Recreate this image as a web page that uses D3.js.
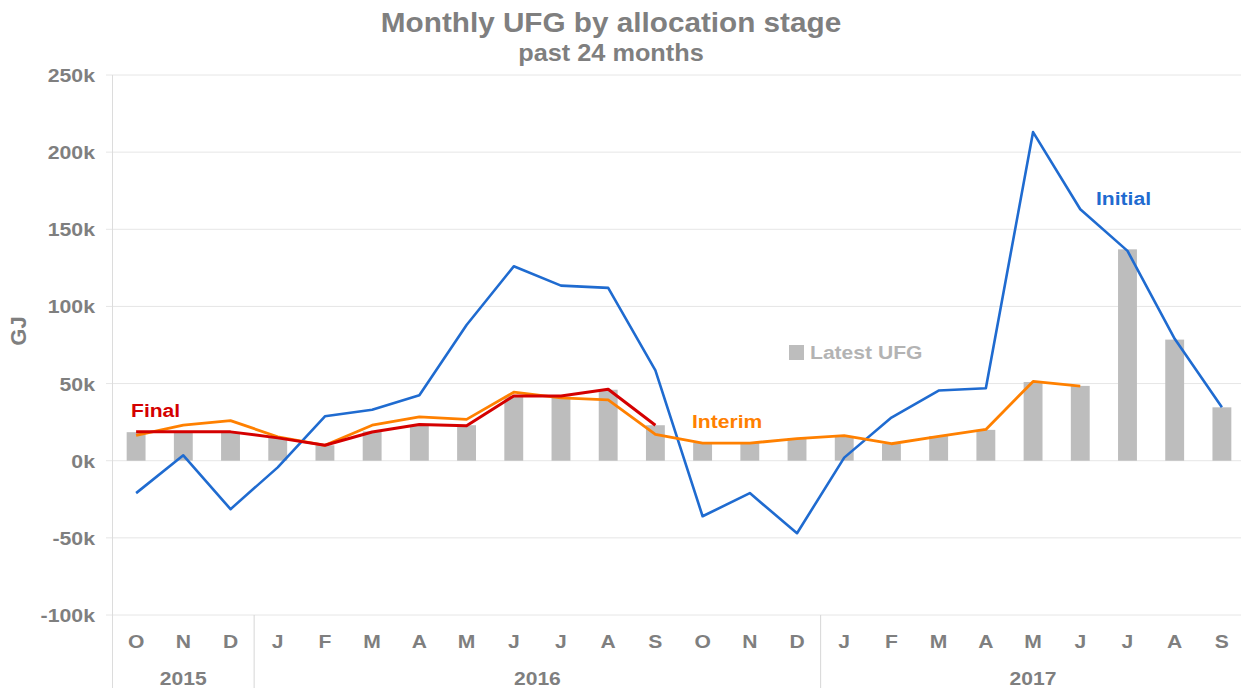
<!DOCTYPE html>
<html>
<head>
<meta charset="utf-8">
<script src="https://cdn.jsdelivr.net/npm/d3@7"></script>
<style>
  body { margin: 0; background: #fff; }
  text { font-family: "Liberation Sans", Arial, sans-serif; font-weight: bold; }
</style>
</head>
<body>
<svg id="chart"></svg>
<script>
// months shown on the axis (past 24 months)
var months = ["O","N","D","J","F","M","A","M","J","J","A","S","O","N","D","J","F","M","A","M","J","J","A","S"];
var years = [
    {label: "2015", from: 0, to: 2},
    {label: "2016", from: 3, to: 14},
    {label: "2017", from: 15, to: 23}
];
// values in thousands of GJ
var latestUfg = [18.5, 18, 18, 15, 10, 19, 23, 23, 42, 41.5, 46, 23, 11.5, 11.5, 14.5, 16, 11, 16, 20, 51, 48.5, 137, 78.5, 34.6];
var initial = [-21, 3.5, -31.4, -4.3, 28.8, 33, 42.4, 88, 126, 113.5, 112, 58.6, -36, -21, -47, 2, 28, 45.5, 47, 213, 163, 136, 79, 34.6];
var interim = [16.4, 23, 26, 15.5, 10, 23, 28.4, 26.8, 44.4, 40.7, 39.4, 17, 11.4, 11.4, 14.3, 16.2, 11, 15.8, 20.3, 51.4, 48.3, null, null, null];
var finalVals = [18.7, 18.7, 18.7, 14.8, 10, 18.6, 23.5, 22.7, 42, 42, 46.3, 23, null, null, null, null, null, null, null, null, null, null, null, null];
var yTicks = [-100, -50, 0, 50, 100, 150, 200, 250];

var W = 1241, H = 688;
var svg = d3.select("#chart").attr("width", W).attr("height", H);

var grey = "#7f7f7f";
var stretch = 1.11; // the reference text is a bit wider than Liberation Sans

var x = d3.scaleBand()
    .domain(d3.range(months.length))
    .range([112.5, 1245.5])
    .paddingInner(0.6)
    .paddingOuter(0.3);
var cx = function (i) { return x(i) + x.bandwidth() / 2; };

var y = d3.scaleLinear()
    .domain([-100, 250])
    .range([615, 75]);

function place(px, py, s) {
    return "translate(" + px + "," + py + ") scale(" + (s || stretch) + ",1)";
}

// gridlines
svg.append("g")
    .selectAll("line")
    .data(yTicks)
    .enter()
    .append("line")
    .attr("x1", 106)
    .attr("x2", W)
    .attr("y1", function (d) { return y(d); })
    .attr("y2", function (d) { return y(d); })
    .style("stroke", "#e6e6e6")
    .style("stroke-width", 1);

// y axis labels
svg.append("g")
    .selectAll("text")
    .data(yTicks)
    .enter()
    .append("text")
    .attr("transform", function (d) { return place(95, y(d) + 7, 1.12); })
    .attr("text-anchor", "end")
    .style("font-size", "19px")
    .style("fill", grey)
    .text(function (d) { return d + "k"; });

svg.append("text")
    .attr("transform", "translate(26," + 331 + ") rotate(-90)")
    .attr("text-anchor", "middle")
    .style("font-size", "22px")
    .style("fill", grey)
    .text("GJ");

// left axis line and year separators
var seps = years.slice(1).map(function (yr) { return x(yr.from) - x.step() * x.paddingInner() / 2; });
svg.append("line")
    .attr("x1", 112.5).attr("x2", 112.5)
    .attr("y1", 75).attr("y2", H)
    .style("stroke", "#dcdcdc");
svg.append("g")
    .selectAll("line")
    .data(seps)
    .enter()
    .append("line")
    .attr("x1", function (d) { return d; })
    .attr("x2", function (d) { return d; })
    .attr("y1", 615).attr("y2", H)
    .style("stroke", "#d6d6d6");

// month labels
svg.append("g")
    .selectAll("text")
    .data(months)
    .enter()
    .append("text")
    .attr("transform", function (d, i) { return place(cx(i), 648); })
    .attr("text-anchor", "middle")
    .style("font-size", "19px")
    .style("fill", grey)
    .text(function (d) { return d; });

// year labels
svg.append("g")
    .selectAll("text")
    .data(years)
    .enter()
    .append("text")
    .attr("transform", function (d) { return place((cx(d.from) + cx(d.to)) / 2, 685); })
    .attr("text-anchor", "middle")
    .style("font-size", "19px")
    .style("fill", grey)
    .text(function (d) { return d.label; });

// bars
svg.append("g")
    .selectAll("rect")
    .data(latestUfg)
    .enter()
    .append("rect")
    .attr("x", function (d, i) { return x(i); })
    .attr("width", x.bandwidth())
    .attr("y", function (d) { return y(Math.max(d, 0)); })
    .attr("height", function (d) { return Math.abs(y(d) - y(0)); })
    .style("fill", "#bdbdbd");

var line = d3.line()
    .defined(function (d) { return d != null; })
    .x(function (d, i) { return cx(i); })
    .y(function (d) { return y(d); });

function drawLine(vals, color, w) {
    svg.append("path")
        .datum(vals)
        .attr("d", line)
        .style("fill", "none")
        .style("stroke", color)
        .style("stroke-width", w)
        .style("stroke-linejoin", "round");
}
drawLine(initial, "#1f6bd0", 2.6);
drawLine(interim, "#ff8000", 2.8);
drawLine(finalVals, "#d40000", 3);

// series labels
svg.append("text").attr("transform", place(131, 417))
    .style("font-size", "19px").style("fill", "#d40000").text("Final");
svg.append("text").attr("transform", place(692, 428))
    .style("font-size", "19px").style("fill", "#ff8000").text("Interim");
svg.append("text").attr("transform", place(1096, 205))
    .style("font-size", "19px").style("fill", "#1f6bd0").text("Initial");
svg.append("rect").attr("x", 789).attr("y", 345).attr("width", 15).attr("height", 15)
    .style("fill", "#bdbdbd");
svg.append("text").attr("transform", place(810, 359))
    .style("font-size", "19px").style("fill", "#b3b3b3").text("Latest UFG");

// title
svg.append("text").attr("transform", place(611, 32, 1.1)).attr("text-anchor", "middle")
    .style("font-size", "27px").style("fill", grey).text("Monthly UFG by allocation stage");
svg.append("text").attr("transform", place(611, 61, 1.1)).attr("text-anchor", "middle")
    .style("font-size", "23px").style("fill", grey).text("past 24 months");
</script>
</body>
</html>
